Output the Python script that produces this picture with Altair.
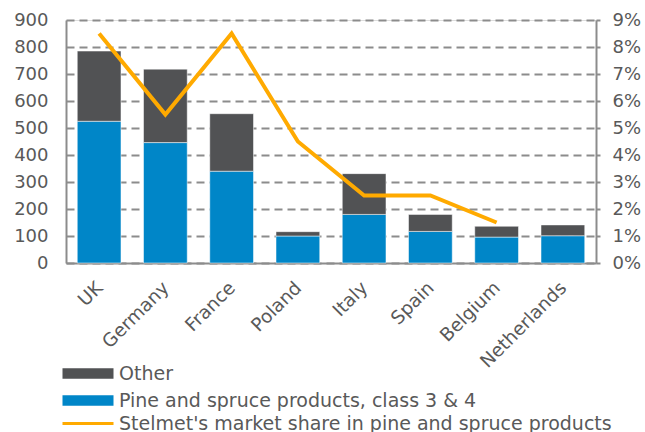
import altair as alt
import pandas as pd

countries = ["UK", "Germany", "France", "Poland", "Italy", "Spain", "Belgium", "Netherlands"]
pine = [525, 446, 340, 100, 180, 117, 96, 101]
other = [260, 272, 213, 16, 151, 63, 40, 40]
share_countries = ["UK", "Germany", "France", "Poland", "Italy", "Spain", "Belgium"]
share = [0.085, 0.055, 0.085, 0.045, 0.025, 0.025, 0.015]

S_OTHER = "Other"
S_PINE = "Pine and spruce products, class 3 & 4"
S_LINE = "Stelmet's market share in pine and spruce products"

rows = []
for c, p, o in zip(countries, pine, other):
    rows.append({"country": c, "series": S_PINE, "value": p, "ord": 0})
    rows.append({"country": c, "series": S_OTHER, "value": o, "ord": 1})
bars_df = pd.DataFrame(rows)
line_df = pd.DataFrame({"country": share_countries, "share": share, "series": S_LINE})

GREY = "#8c8c8c"
TXT = "#595959"
FONT = "DejaVu Sans"

xenc = alt.X("country:N", sort=countries,
             scale=alt.Scale(paddingInner=0.34, paddingOuter=0.17),
             axis=alt.Axis(title=None, labelAngle=-45, labelAlign="right", labelBaseline="top",
                           labelPadding=15, labelOffset=-6, ticks=False, domainColor=GREY,
                           domainWidth=2, labelFontSize=18.5, labelColor=TXT, labelFont=FONT))

bars = alt.Chart(bars_df).mark_bar(stroke="white", strokeWidth=0.5).encode(
    x=xenc,
    y=alt.Y("value:Q", stack="zero",
            scale=alt.Scale(domain=[0, 900], nice=False),
            axis=alt.Axis(title=None, values=list(range(0, 1000, 100)), grid=True,
                          gridColor=GREY, gridDash=[8, 5], gridWidth=2,
                          domainColor=GREY, domainWidth=2, ticks=False,
                          labelPadding=18, labelFontSize=18, labelColor=TXT, labelFont=FONT)),
    fill=alt.Fill("series:N",
                  scale=alt.Scale(domain=[S_OTHER, S_PINE], range=["#515254", "#0086C8"]),
                  legend=alt.Legend(title=None, orient="none", legendX=-8, legendY=344,
                                    symbolType="M-1,-1.05H9.2V1.05H-1Z", symbolSize=100,
                                    symbolStrokeWidth=0, labelOffset=42, rowPadding=7,
                                    labelFontSize=19, labelColor=TXT, labelFont=FONT,
                                    labelLimit=600)),
    order=alt.Order("ord:Q"),
)

line = alt.Chart(line_df).mark_line(strokeWidth=4).encode(
    x=alt.X("country:N", sort=countries),
    y=alt.Y("share:Q",
            scale=alt.Scale(domain=[0, 0.09], nice=False),
            axis=alt.Axis(title=None, orient="right", format=".0%",
                          values=[i / 100 for i in range(10)], grid=False,
                          domainColor=GREY, domainWidth=2, tickColor=GREY, tickWidth=2,
                          tickSize=4, labelPadding=12, labelFontSize=18, labelColor=TXT,
                          labelFont=FONT)),
    stroke=alt.Stroke("series:N",
                      scale=alt.Scale(domain=[S_LINE], range=["#FFAA00"]),
                      legend=alt.Legend(title=None, orient="none", legendX=-8, legendY=394,
                                        symbolType="M-1,0H9.2", symbolSize=100,
                                        symbolStrokeWidth=3, labelOffset=42,
                                        labelFontSize=19, labelColor=TXT, labelFont=FONT,
                                        labelLimit=600)),
)

chart = alt.layer(bars, line).resolve_scale(y="independent").properties(
    width=530, height=243,
    autosize=alt.AutoSizeParams(type="none"),
    padding={"left": 66, "top": 20, "right": 49, "bottom": 169},
).configure_view(stroke=None).configure(background="white")

chart.save("out.html", embed_options={"renderer": "svg", "actions": False})
